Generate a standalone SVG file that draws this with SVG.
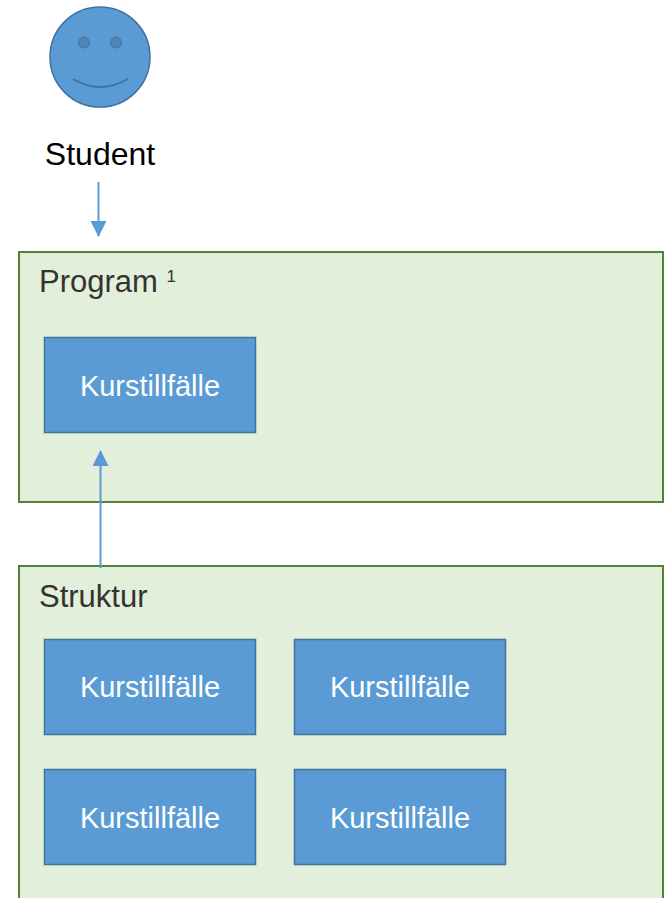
<svg xmlns="http://www.w3.org/2000/svg" width="666" height="898" viewBox="0 0 666 898">
<style>
.container{fill:#e2efda;stroke:#548235;stroke-width:2}
.course{fill:#5b9bd5;stroke:#41719c;stroke-width:1.5}
.ctext{font-family:"Liberation Sans",Arial,sans-serif;font-size:29px;fill:#ffffff;text-anchor:middle}
.title{font-family:"Liberation Sans",Arial,sans-serif;font-size:31px;fill:#333333}
.conn{stroke:#5b9bd5;stroke-width:2;fill:none}
</style>
<defs>
<marker id="arrow" viewBox="0 0 16 16" refX="15" refY="8" markerWidth="16" markerHeight="16" markerUnits="userSpaceOnUse" orient="auto">
<path d="M0,0 L16,8 L0,16 Z" fill="#5b9bd5"/>
</marker>
</defs>
<rect width="666" height="898" fill="#ffffff"/>
<g id="student">
<circle cx="100" cy="57" r="50" fill="#5b9bd5" stroke="#41719c" stroke-width="1.5"/>
<circle cx="84" cy="42.5" r="5.5" fill="#4d86ba" stroke="#41719c" stroke-width="1"/>
<circle cx="116" cy="42.5" r="5.5" fill="#4d86ba" stroke="#41719c" stroke-width="1"/>
<path d="M73,79 Q100,95 128,79" fill="none" stroke="#41719c" stroke-width="2"/>
<text x="100" y="165" font-family="Liberation Sans,Arial,sans-serif" font-size="32" fill="#000000" text-anchor="middle">Student</text>
</g>
<g id="program">
<rect class="container" x="19" y="252" width="644" height="250"/>
<text class="title" x="39" y="292">Program <tspan font-size="17" dy="-10">1</tspan></text>
</g>
<g id="program-course">
<rect class="course" x="44.5" y="337.5" width="211" height="95"/>
<text class="ctext" x="150" y="396">Kurstillfälle</text>
</g>
<g id="struktur">
<rect class="container" x="19" y="566" width="644" height="340"/>
<text class="title" x="39" y="607">Struktur</text>
</g>
<g id="course-1">
<rect class="course" x="44.5" y="639.5" width="211" height="95"/>
<text class="ctext" x="150" y="697">Kurstillfälle</text>
</g>
<g id="course-2">
<rect class="course" x="294.5" y="639.5" width="211" height="95"/>
<text class="ctext" x="400" y="697">Kurstillfälle</text>
</g>
<g id="course-3">
<rect class="course" x="44.5" y="769.5" width="211" height="95"/>
<text class="ctext" x="150" y="828">Kurstillfälle</text>
</g>
<g id="course-4">
<rect class="course" x="294.5" y="769.5" width="211" height="95"/>
<text class="ctext" x="400" y="828">Kurstillfälle</text>
</g>
<g id="connectors">
<line class="conn" x1="98.5" y1="182" x2="98.5" y2="236" marker-end="url(#arrow)"/>
<line class="conn" x1="100.5" y1="568" x2="100.5" y2="451" marker-end="url(#arrow)"/>
</g>
</svg>
